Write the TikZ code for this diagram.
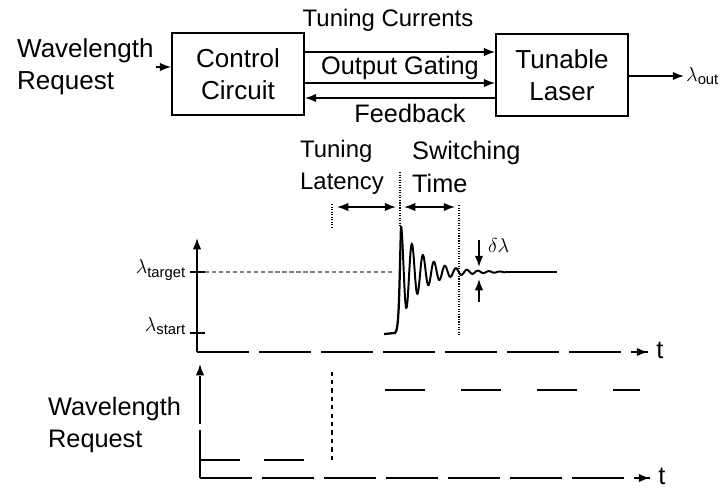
\documentclass[tikz,border=0pt]{standalone}
\usepackage{fontspec}
\setmainfont{Liberation Sans}
\usetikzlibrary{arrows.meta,positioning}

\begin{document}
\begin{tikzpicture}[x=0.025cm,y=-0.025cm,
      box/.style={draw,line width=1.2pt,align=center,minimum width=3.3cm,minimum height=2.05cm,font=\fontsize{18.5}{23}\selectfont},
      txt/.style={align=center,font=\fontsize{18}{23}\selectfont,inner sep=1pt},
      lam/.style={font=\fontsize{15}{17}\selectfont,inner sep=1pt},
      line width=1.1pt,
      >={Latex[length=8pt,width=6pt]}
]
\useasboundingbox (0,0) rectangle (721,488);
% block diagram
\node[txt,align=left,anchor=west,font=\fontsize{18.5}{23}\selectfont] (req) at (15,67) {Wavelength\\Request};
\node[box] (ctrl) at (238,74) {Control\\Circuit};
\node[box] (laser) at (562,75) {Tunable\\Laser};
\node[lam,anchor=west] (lout) at (684,76) {$\lambda_{\mathrm{out}}$};
\draw[->] (req.east) -- (req.east -| ctrl.west);
\draw[->] ([yshift=0.55cm]ctrl.east) -- ([yshift=0.55cm]ctrl.east -| laser.west);
\draw[->] ([yshift=-0.225cm]ctrl.east) -- ([yshift=-0.225cm]ctrl.east -| laser.west);
\draw[->] ([yshift=-0.6cm]ctrl.east -| laser.west) -- ([yshift=-0.6cm]ctrl.east);
\draw[->] (laser.east |- lout.west) -- (lout.west);
\node[txt,font=\fontsize{17}{23}\selectfont] (tcur) at (388,20) {Tuning Currents};
\node[txt] (gate) at (400,68) {Output Gating};
\node[txt] (fb) at (410,113) {Feedback};
% wavelength vs time
\coordinate (o1) at (197,352);
\coordinate (y1) at (197,238);
\coordinate (t1) at (648,352);
\draw[->] (o1) -- (y1);
\draw[dash pattern=on 1.3cm off 0.25cm] (o1) -- (t1);
\draw[->] ([xshift=-0.3cm]t1) -- (t1);
\node[txt] (tlab1) at (660,350) {t};
\draw (190,272) -- (205,272);
\draw (190,333) -- (205,333);
\node[lam,anchor=east] (ltarget) at (188,270) {$\lambda_{\mathrm{target}}$};
\node[lam,anchor=east] (lstart) at (188,326) {$\lambda_{\mathrm{start}}$};
\draw[densely dashed,gray,line width=0.8pt] (205,272) -- (392,272);
\draw[line width=1.6pt] (384,334) -- (395,333) .. controls (399,330) and (399,300) .. (401,226);
\draw[line width=1.4pt] plot[domain=0:104,samples=300,smooth] ({401+\x},{272-46*exp(-\x/22)*cos(32.73*\x)});
\draw[line width=1.4pt] (505,272) -- (557,272);
\draw[densely dotted,line width=0.8pt] (332,204) -- (332,228);
\draw[densely dotted,line width=0.8pt] (400,172) -- (400,226);
\draw[densely dotted,line width=0.8pt] (459,205) -- (459,335);
\draw[<->] (337,207) -- (396,207);
\draw[<->] (404,207) -- (455,207);
\node[txt,align=left,anchor=west,font=\fontsize{17}{23}\selectfont] (tlat) at (298,167) {Tuning\\Latency};
\node[txt,align=left,anchor=west] (tsw) at (410,167) {Switching\\Time};
\draw[->] (479,240) -- (479,267);
\draw[->] (479,302) -- (479,279);
\node[lam,anchor=west] (dlam) at (486,245) {$\delta\lambda$};
% request vs time
\coordinate (o2) at (200,478);
\coordinate (y2) at (200,364);
\coordinate (t2) at (650,478);
\draw[->,dash pattern=on 1.2cm off 0.15cm] (o2) -- (y2);
\draw[dash pattern=on 1.3cm off 0.25cm] (o2) -- (t2);
\draw[->] ([xshift=-0.3cm]t2) -- (t2);
\node[txt] (tlab2) at (662,476) {t};
\node[txt,align=left,anchor=west] (req2) at (46,425) {Wavelength\\Request};
\draw[dash pattern=on 1cm off 0.6cm] (200,460) -- (318,460);
\draw[dashed] (332,460) -- (332,372);
\draw[dash pattern=on 1cm off 0.9cm] (385,390) -- (640,390);
\end{tikzpicture}
\end{document}
